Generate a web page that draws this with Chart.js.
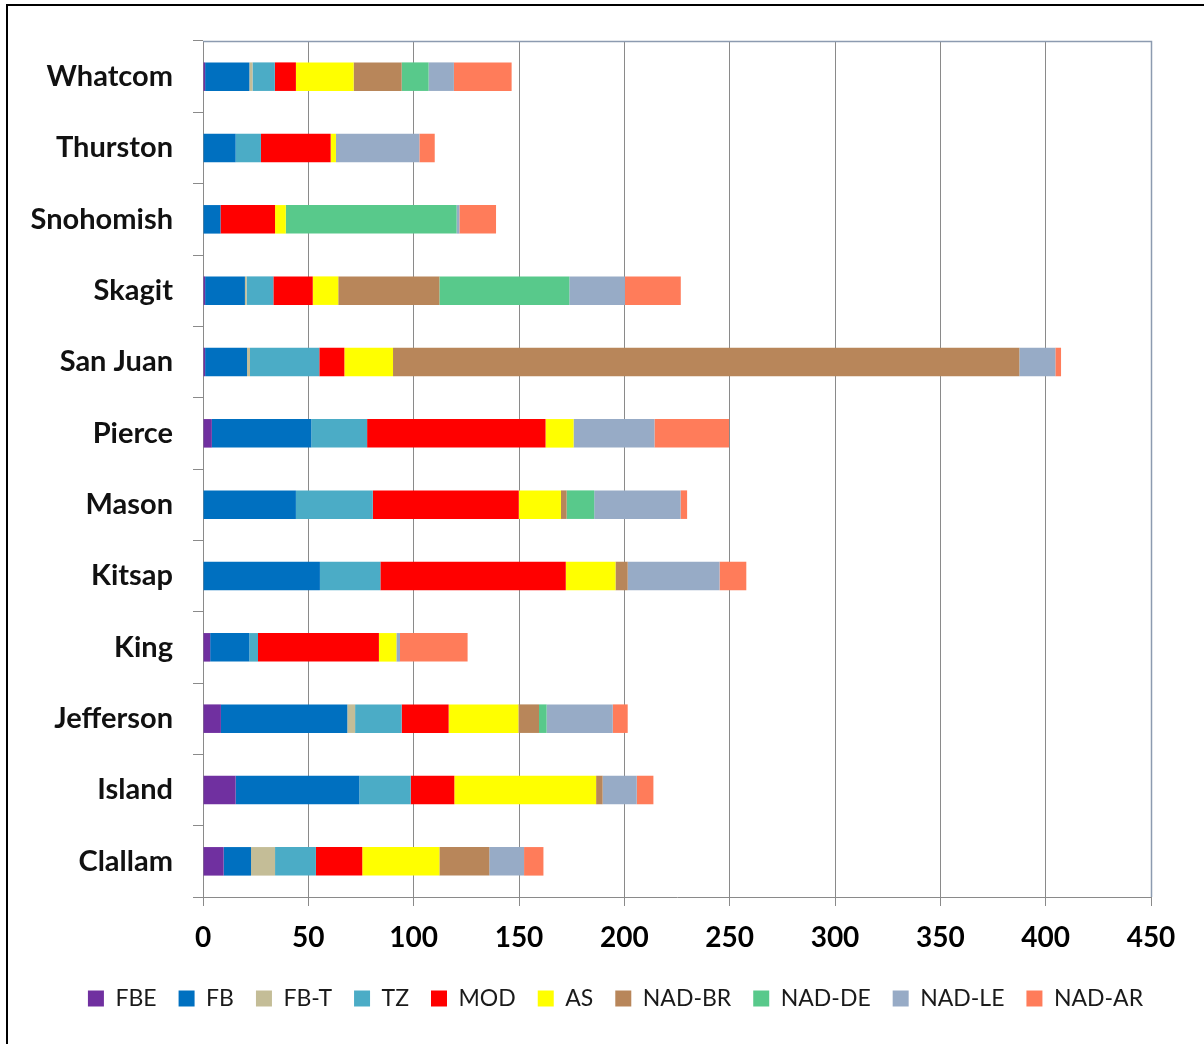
<!DOCTYPE html>
<html>
<head>
<meta charset="utf-8">
<script src="https://cdn.jsdelivr.net/npm/chart.js@4/dist/chart.umd.min.js"></script>
<style>
  html, body { margin: 0; padding: 0; background: #fff; overflow: hidden; }
  #wrap { position: relative; width: 1204px; height: 1044px; }
  #frame { position: absolute; left: 6px; top: 4px; width: 1210px; height: 1060px; border: 2px solid #000; pointer-events: none; }
</style>
</head>
<body>
<div id="wrap">
  <canvas id="chart" width="1204" height="1044"></canvas>
  <div id="frame"></div>
</div>
<script>
const COUNTIES = ["Whatcom", "Thurston", "Snohomish", "Skagit", "San Juan", "Pierce", "Mason", "Kitsap", "King", "Jefferson", "Island", "Clallam"];
const X_TICKS = [0, 50, 100, 150, 200, 250, 300, 350, 400, 450];

const FBE    = [1,    0,    0,    1,    1,     4.2,  0,    0,    3.4,  8.5,  15.5, 9.8];
const FB     = [21,   15.5, 8.3,  18.9, 19.9,  47.2, 44.1, 55.5, 18.6, 60,   58.7, 13];
const FB_T   = [1.5,  0,    0,    0.8,  1.4,   0,    0,    0,    0,    3.7,  0,    11.4];
const TZ     = [10.6, 12,   0,    12.7, 32.9,  26.5, 36.5, 28.7, 4.1,  22.1, 24.4, 19.4];
const MOD    = [10,   33.1, 25.9, 18.7, 11.9,  84.7, 69.3, 88,   57.4, 22.3, 20.7, 22];
const AS     = [27.4, 2.5,  5.1,  12.1, 23.1,  13.3, 20,   23.6, 8.3,  33.1, 67.3, 36.6];
const NAD_BR = [22.8, 0,    0,    48,   297.3, 0,    2.7,  5.8,  0,    9.8,  3.1,  23.7];
const NAD_DE = [12.8, 0,    81.1, 61.7, 0,     0,    13.1, 0,    0,    3.6,  0,    0];
const NAD_LE = [12,   39.6, 1.3,  26.4, 17.1,  38.4, 41,   43.6, 1.7,  31.4, 16.2, 16.5];
const NAD_AR = [27.4, 7.3,  17.4, 26.5, 2.7,   35.4, 3.1,  12.7, 32.1, 7.1,  7.9,  9.2];

const SERIES = [
  { label: "FBE", data: FBE, color: "#7030A0" },
  { label: "FB", data: FB, color: "#0070C0" },
  { label: "FB-T", data: FB_T, color: "#C4BD97" },
  { label: "TZ", data: TZ, color: "#4BACC6" },
  { label: "MOD", data: MOD, color: "#FF0000" },
  { label: "AS", data: AS, color: "#FFFF00" },
  { label: "NAD-BR", data: NAD_BR, color: "#B8865A" },
  { label: "NAD-DE", data: NAD_DE, color: "#58C98B" },
  { label: "NAD-LE", data: NAD_LE, color: "#97ABC6" },
  { label: "NAD-AR", data: NAD_AR, color: "#FF7C5A" },
];

const AXIS_GRAY = "#8a8a8a";

// top and right edges of the plot area
const plotFrame = {
  id: "plotFrame",
  afterDraw(chart) {
    const { ctx, chartArea: a } = chart;
    ctx.save();
    ctx.strokeStyle = "#8c9bb0";
    ctx.lineWidth = 1.5;
    ctx.beginPath();
    ctx.moveTo(a.left, a.top + 0.5);
    ctx.lineTo(a.right + 0.5, a.top + 0.5);
    ctx.lineTo(a.right + 0.5, a.bottom);
    ctx.stroke();
    ctx.restore();
  },
};

// nudge the legend row to the right so it sits under the plot
const legendShift = {
  id: "legendShift",
  afterLayout(chart) {
    if (!chart.legend) return;
    chart.legend.left += 40;
    chart.legend.right += 40;
  },
};

new Chart(document.getElementById("chart"), {
  type: "bar",
  data: {
    labels: COUNTIES,
    datasets: SERIES.map((s) => ({
      label: s.label,
      data: s.data,
      backgroundColor: s.color,
      borderWidth: 0,
      barPercentage: 0.4,
      categoryPercentage: 1,
    })),
  },
  options: {
    indexAxis: "y",
    responsive: false,
    animation: false,
    devicePixelRatio: 1,
    layout: { padding: { top: 41, right: 53, left: 0, bottom: 24 } },
    plugins: {
      tooltip: { enabled: false },
      legend: {
        position: "bottom",
        labels: {
          boxWidth: 16,
          boxHeight: 16,
          padding: 22,
          color: "#1a1a1a",
          font: { family: "Lato", size: 23 },
        },
      },
    },
    scales: {
      x: {
        stacked: true,
        min: 0,
        max: 450,
        afterBuildTicks: (s) => { s.ticks = X_TICKS.map((v) => ({ value: v })); },
        afterFit: (s) => { s.height = 68; },
        ticks: { color: "#000", padding: 15, font: { family: "Lato", size: 28, weight: "bold" } },
        grid: { color: AXIS_GRAY, tickColor: AXIS_GRAY, tickLength: 9 },
        border: { color: AXIS_GRAY },
      },
      y: {
        stacked: true,
        afterFit: (s) => { s.width = 203; },
        ticks: { color: "#111", padding: 20, font: { family: "Lato", size: 29, weight: "bold" } },
        grid: { drawOnChartArea: false, offset: true, tickColor: AXIS_GRAY, tickLength: 10 },
        border: { color: AXIS_GRAY },
      },
    },
  },
  plugins: [plotFrame, legendShift],
});
</script>
</body>
</html>
